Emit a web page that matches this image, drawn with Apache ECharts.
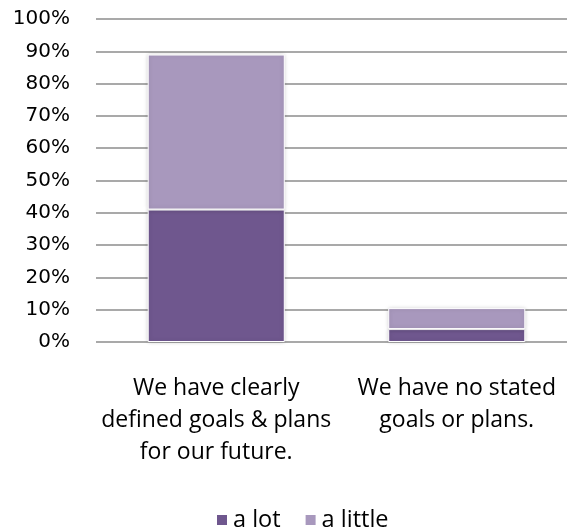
<!DOCTYPE html>
<html>
<head>
<meta charset="utf-8">
<script src="https://cdn.jsdelivr.net/npm/echarts@6/dist/echarts.min.js"></script>
<style>
  html, body { margin: 0; padding: 0; background: #fff; overflow: hidden; }
  /* the original plot runs a little past the right edge of the picture */
  #chart { width: 577px; height: 530px; }
</style>
</head>
<body>
<div id="chart"></div>
<script>
  // data
  const categories = [
    "We have clearly\ndefined goals & plans\nfor our future.",
    "We have no stated\ngoals or plans."
  ];
  const aLot = [41, 4];
  const aLittle = [48, 6.5];
  const yTicks = [0, 10, 20, 30, 40, 50, 60, 70, 80, 90, 100];

  const font = "Open Sans";
  const chart = echarts.init(document.getElementById("chart"));

  const barStyle = (color) => ({
    color: color,
    borderColor: "#fff",
    borderWidth: 1,
    shadowColor: "rgba(0,0,0,0.18)",
    shadowBlur: 4
  });

  chart.setOption({
    animation: false,
    textStyle: { fontFamily: font },
    grid: { left: 96, right: 0, top: 19, bottom: 188 },
    legend: {
      top: 503,
      left: 210,
      itemWidth: 12,
      itemHeight: 12,
      itemGap: 23,
      icon: "rect",
      textStyle: { fontSize: 23.5, color: "#000", fontFamily: font },
      data: ["a lot", "a little"]
    },
    xAxis: {
      type: "category",
      data: categories,
      axisLine: { show: false },
      axisTick: { show: false },
      axisLabel: {
        fontSize: 23,
        lineHeight: 32,
        color: "#000",
        margin: 30,
        interval: 0
      }
    },
    yAxis: {
      type: "value",
      min: yTicks[0],
      max: yTicks[yTicks.length - 1],
      interval: 10,
      axisLabel: {
        formatter: "{value}%",
        fontFamily: "DejaVu Sans",
        fontSize: 20,
        color: "#000",
        margin: 26
      },
      splitLine: { lineStyle: { color: "#8c8c8c", width: 1.5 } }
    },
    series: [
      {
        name: "a lot",
        type: "bar",
        stack: "total",
        barWidth: "57%",
        data: aLot,
        itemStyle: barStyle("#6f578e")
      },
      {
        name: "a little",
        type: "bar",
        stack: "total",
        barWidth: "57%",
        data: aLittle,
        itemStyle: barStyle("#a898bd")
      }
    ]
  });
</script>
</body>
</html>
